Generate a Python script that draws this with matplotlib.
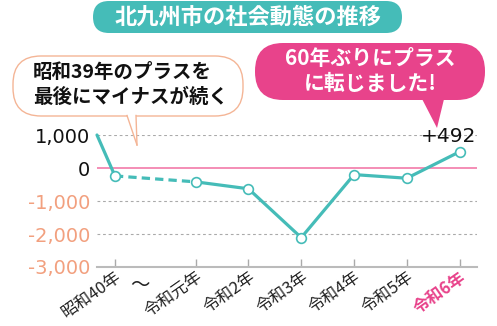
import matplotlib
matplotlib.use("Agg")
import matplotlib.pyplot as plt
from matplotlib.patches import FancyBboxPatch, Polygon
from matplotlib.transforms import ScaledTranslation

plt.rcParams['font.family'] = ['Noto Sans CJK JP', 'DejaVu Sans']

# ---- data ----
title = "北九州市の社会動態の推移"
categories = ["昭和40年", "令和元年", "令和2年", "令和3年", "令和4年", "令和5年", "令和6年"]
values = [-240, -420, -630, -2110, -200, -310, 492]
lead_value = 1000          # 昭和39年 (plus), line enters from the left edge
yticks = [1000, 0, -1000, -2000, -3000]
note_left = "昭和39年のプラスを\n最後にマイナスが続く"
note_right = "60年ぶりにプラス\nに転じました!"
last_label = "+492"

# ---- style ----
TEAL = "#45bcb8"
PINK = "#e8438b"
SALMON = "#f2a07f"
ZERO = "#f27aa9"
GRID = "#aaaaaa"

gap = 1.53   # wider slot for the "〜" break
xpos = [0] + [gap + i for i in range(len(categories) - 1)]
xmin, xmax = -0.34, 6.86

fig = plt.figure(figsize=(4.97, 3.26), dpi=100)
W, H = 497, 326
ax = fig.add_axes([97 / W, (H - 267) / H, 380 / W, 132 / H])
ax.set_xlim(xmin, xmax)
ax.set_ylim(-3000, 1000)

# grid & zero line
for yv in yticks[:-1]:
    if yv == 0:
        continue
    ax.axhline(yv, color=GRID, lw=0.8, ls=(0, (2.5, 2.5)), zorder=1)
ax.axhline(0, color=ZERO, lw=1.2, zorder=2)

# lines
ax.plot([xmin, xpos[0]], [lead_value, values[0]], color=TEAL, lw=2.3,
        solid_capstyle='round', zorder=3, clip_on=False)
ax.plot(xpos[:2], values[:2], color=TEAL, lw=2.3, ls=(0, (2.6, 1.6)), zorder=3)
ax.plot(xpos[1:], values[1:], color=TEAL, lw=2.3, zorder=3,
        solid_joinstyle='round')
ax.plot(xpos, values, ls='none', marker='o', ms=7, mfc='white',
        mec=TEAL, mew=1.2, zorder=4, clip_on=False)

ax.annotate(last_label, (xpos[-1], values[-1]), xytext=(17, 15),
            textcoords='offset pixels', ha='right', va='center',
            fontsize=14.5, color='#111111', family='DejaVu Sans')

# axes styling
for s in ['top', 'right', 'left']:
    ax.spines[s].set_visible(False)
ax.spines['bottom'].set_color('#bbbbbb')
ax.spines['bottom'].set_linewidth(1.5)
ax.set_facecolor('none')

ax.set_yticks(yticks)
ax.set_yticklabels([f"{v:,}" for v in yticks], family='DejaVu Sans')
ax.tick_params(axis='y', length=0, pad=5, labelsize=14)
for lab, v in zip(ax.get_yticklabels(), yticks):
    lab.set_color('#111111' if v >= 0 else SALMON)

ax.set_xticks(xpos)
ax.set_xticklabels(categories, rotation=35, ha='right', va='center',
                   rotation_mode='anchor')
ax.tick_params(axis='x', direction='in', length=6, width=1, color='#aaaaaa',
               pad=6, labelsize=12)
shift = ScaledTranslation(5 / 100, 0, fig.dpi_scale_trans)
for lab in ax.get_xticklabels():
    lab.set_color('#222222')
    lab.set_transform(lab.get_transform() + shift)
last = ax.get_xticklabels()[-1]
last.set_color(PINK)
last.set_fontweight('bold')

ax.annotate("〜", ((xpos[0] + xpos[1]) / 2, -3000), xytext=(-15, -19),
            textcoords='offset pixels', ha='center', va='center',
            fontsize=14, color='#222222', annotation_clip=False)

# ---- overlay (title, bubbles) in pixel coords ----
ov = fig.add_axes([0, 0, 1, 1], zorder=5)
ov.set_xlim(0, W)
ov.set_ylim(H, 0)
ov.axis('off')
ov.set_facecolor('none')

ov.add_patch(FancyBboxPatch((77 + 16, 1), 341 - 32, 32, boxstyle="round,pad=0,rounding_size=16",
                            fc=TEAL, ec='none'))
ov.text(248, 17, title, ha='center', va='center', color='white',
        fontsize=16, fontweight='bold')

# left bubble
ov.add_patch(FancyBboxPatch((13, 56), 230, 60, boxstyle="round,pad=0,rounding_size=28",
                            fc='white', ec='#f4b596', lw=1.0))
ov.add_patch(Polygon([(127, 114), (136, 114), (137, 145)], closed=True,
                     fc='white', ec='none'))
ov.plot([127, 137], [115.5, 145], color='#f4b596', lw=1.0)
ov.plot([136, 137], [115.5, 145], color='#f4b596', lw=1.0)
ov.text(33, 85, note_left, ha='left', va='center', color='#111111',
        fontsize=14, fontweight='bold', linespacing=1.35)

# right bubble
ov.add_patch(FancyBboxPatch((255, 43), 230, 57, boxstyle="round,pad=0,rounding_size=28",
                            fc=PINK, ec='none'))
ov.add_patch(Polygon([(420, 95), (445, 95), (437, 128)], closed=True,
                     fc=PINK, ec='none'))
ov.text(370, 71, note_right, ha='center', va='center', color='white',
        fontsize=15, fontweight='bold', linespacing=1.25)

fig.savefig("out.png", dpi=100, facecolor='white')
